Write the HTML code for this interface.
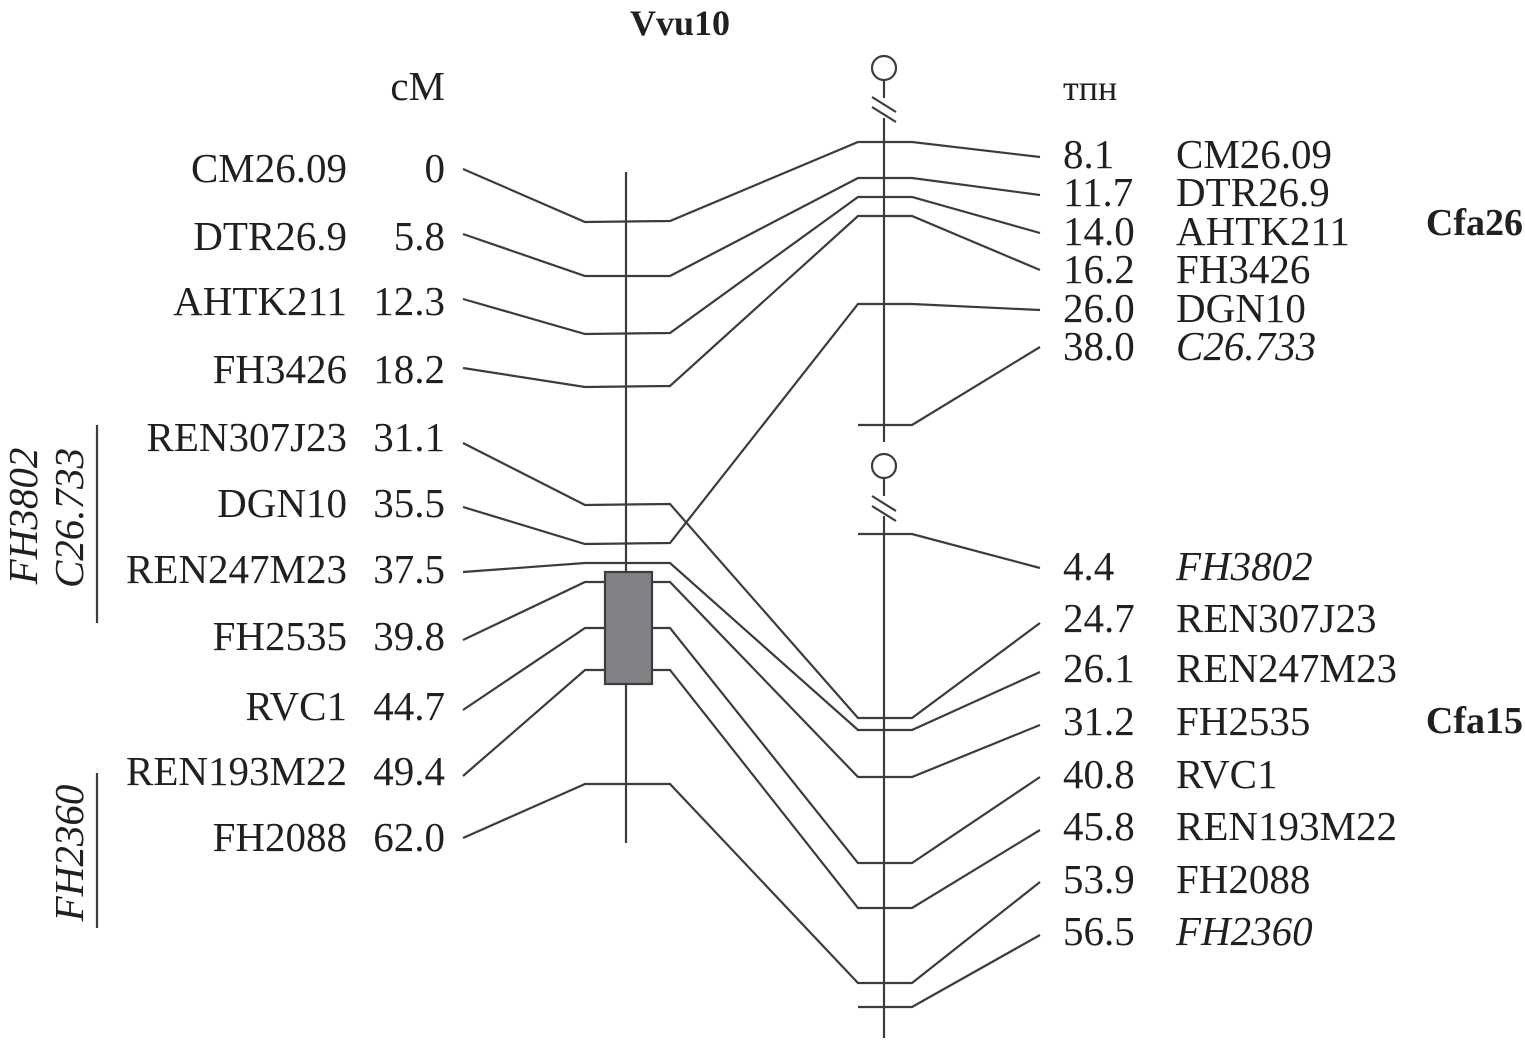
<!DOCTYPE html>
<html><head><meta charset="utf-8"><style>
html,body{margin:0;padding:0;background:#fff;}
svg{display:block;}
text{font-family:"Liberation Serif",serif;fill:#231f20;}
</style></head><body>
<svg width="1525" height="1040" viewBox="0 0 1525 1040" xmlns="http://www.w3.org/2000/svg">
<g stroke="#3c3c3c" stroke-width="2.2" fill="none">
<line x1="626" y1="172" x2="626" y2="843"/>
<circle cx="884" cy="68" r="12"/>
<line x1="884" y1="80" x2="884" y2="98"/>
<line x1="884" y1="118" x2="884" y2="442"/>
<line x1="872" y1="97" x2="896" y2="112"/>
<line x1="872" y1="107" x2="896" y2="122"/>
<circle cx="884" cy="466" r="12"/>
<line x1="884" y1="478" x2="884" y2="496"/>
<line x1="884" y1="516" x2="884" y2="1038"/>
<line x1="872" y1="496" x2="896" y2="511"/>
<line x1="872" y1="506" x2="896" y2="521"/>
<polyline points="463,169 585,222 670,221 858,142 912,142 1040,157"/>
<polyline points="463,234 585,276 670,276 858,178 912,178 1040,195"/>
<polyline points="463,299 585,334 670,333 858,197 912,197 1040,233"/>
<polyline points="463,368 585,387 670,386 858,216 912,216 1040,270"/>
<polyline points="463,443 585,505 670,504 858,718 912,718 1040,623"/>
<polyline points="463,507 585,544 670,543 858,304 912,304 1040,310"/>
<polyline points="858,425 912,425 1040,347"/>
<polyline points="858,534 912,534 1040,568"/>
<polyline points="463,572 585,563 670,563 858,730 912,730 1040,672"/>
<polyline points="463,640 585,582 605,582"/>
<polyline points="652,582 670,582 858,777 912,777 1040,725"/>
<polyline points="463,710 585,628 605,628"/>
<polyline points="652,628 670,628 858,863 912,863 1040,777"/>
<polyline points="463,776 585,670 605,670"/>
<polyline points="652,670 670,670 858,908 912,908 1040,830"/>
<polyline points="463,838 585,784 670,784 858,983 912,983 1040,882"/>
<polyline points="858,1007 912,1007 1040,935"/>
<line x1="97" y1="425" x2="97" y2="623"/>
<line x1="97" y1="773" x2="97" y2="928"/>
</g>
<rect x="605" y="572" width="47" height="112" fill="#808184" stroke="#3c3c3c" stroke-width="2.2"/>

<text x="680" y="35" font-size="36" font-weight="bold" text-anchor="middle">Vvu10</text>
<text x="445" y="100" font-size="41" text-anchor="end">cM</text>
<text x="1063" y="100" font-size="36">тпн</text>
<text x="1523" y="235" font-size="38" font-weight="bold" text-anchor="end">Cfa26</text>
<text x="1523" y="733" font-size="38" font-weight="bold" text-anchor="end">Cfa15</text>

<g font-size="41" text-anchor="end">
<text x="347" y="182">CM26.09</text><text x="445" y="182">0</text>
<text x="347" y="250">DTR26.9</text><text x="445" y="250">5.8</text>
<text x="347" y="315">AHTK211</text><text x="445" y="315">12.3</text>
<text x="347" y="383">FH3426</text><text x="445" y="383">18.2</text>
<text x="347" y="451">REN307J23</text><text x="445" y="451">31.1</text>
<text x="347" y="517">DGN10</text><text x="445" y="517">35.5</text>
<text x="347" y="583">REN247M23</text><text x="445" y="583">37.5</text>
<text x="347" y="650">FH2535</text><text x="445" y="650">39.8</text>
<text x="347" y="720">RVC1</text><text x="445" y="720">44.7</text>
<text x="347" y="785">REN193M22</text><text x="445" y="785">49.4</text>
<text x="347" y="851">FH2088</text><text x="445" y="851">62.0</text>
</g>

<g font-size="41">
<text x="1063" y="168">8.1</text><text x="1176" y="168">CM26.09</text>
<text x="1063" y="206">11.7</text><text x="1176" y="206">DTR26.9</text>
<text x="1063" y="245">14.0</text><text x="1176" y="245">AHTK211</text>
<text x="1063" y="283">16.2</text><text x="1176" y="283">FH3426</text>
<text x="1063" y="322">26.0</text><text x="1176" y="322">DGN10</text>
<text x="1063" y="360">38.0</text><text x="1176" y="360" font-style="italic">C26.733</text>
<text x="1063" y="580">4.4</text><text x="1176" y="580" font-style="italic">FH3802</text>
<text x="1063" y="632">24.7</text><text x="1176" y="632">REN307J23</text>
<text x="1063" y="682">26.1</text><text x="1176" y="682">REN247M23</text>
<text x="1063" y="735">31.2</text><text x="1176" y="735">FH2535</text>
<text x="1063" y="788">40.8</text><text x="1176" y="788">RVC1</text>
<text x="1063" y="840">45.8</text><text x="1176" y="840">REN193M22</text>
<text x="1063" y="893">53.9</text><text x="1176" y="893">FH2088</text>
<text x="1063" y="945">56.5</text><text x="1176" y="945" font-style="italic">FH2360</text>
</g>

<g font-size="41" font-style="italic" text-anchor="middle">
<text transform="translate(37,516) rotate(-90)">FH3802</text>
<text transform="translate(83,518) rotate(-90)">C26.733</text>
<text transform="translate(83,853) rotate(-90)">FH2360</text>
</g>
</svg>
</body></html>
